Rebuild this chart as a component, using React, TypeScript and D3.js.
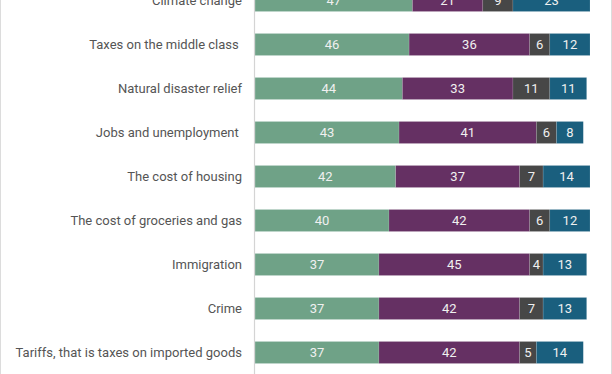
import React from "react";
import * as d3 from "d3";

const categories = [
  "Climate change",
  "Taxes on the middle class ",
  "Natural disaster relief",
  "Jobs and unemployment ",
  "The cost of housing",
  "The cost of groceries and gas",
  "Immigration",
  "Crime",
  "Tariffs, that is taxes on imported goods",
];

const seriesKeys = ["a", "b", "c", "d"];
const seriesA = [47, 46, 44, 43, 42, 40, 37, 37, 37];
const seriesB = [21, 36, 33, 41, 37, 42, 45, 42, 42];
const seriesC = [9, 6, 11, 6, 7, 6, 4, 7, 5];
const seriesD = [23, 12, 11, 8, 14, 12, 13, 13, 14];

const colors = ["#6fa287", "#653063", "#474747", "#1a5f7e"];

const App = () => {
  const width = 612;
  const height = 374;
  const left = 255;
  const right = 590;

  const rows = categories.map((c, i) => ({
    cat: c,
    a: seriesA[i],
    b: seriesB[i],
    c: seriesC[i],
    d: seriesD[i],
  }));

  const stack = d3.stack<any>().keys(seriesKeys)(rows);

  const x = d3.scaleLinear().domain([0, 100]).range([left, right]);
  const y = d3
    .scaleBand()
    .domain(categories)
    .range([-21.5, 374.5])
    .paddingInner(0.5)
    .paddingOuter(0.25);

  const font = "Roboto, 'Noto Sans', sans-serif";

  return (
    <div style={{ position: "fixed", top: 0, left: 0, width, height }}>
      <svg width={width} height={height} style={{ display: "block" }}>
        <rect x={0} y={0} width={width} height={height} fill="#fff" />
        <line x1={0.5} x2={0.5} y1={0} y2={height} stroke="#dcdcdc" />
        <line x1={611.5} x2={611.5} y1={0} y2={height} stroke="#dcdcdc" />
        {stack.map((layer, si) => (
          <g key={si}>
            {layer.map((d, i) => {
              const x0 = x(d[0]);
              const x1 = x(d[1]);
              const yy = y(categories[i])!;
              return (
                <g key={i}>
                  <rect
                    x={x0}
                    y={yy}
                    width={x1 - x0}
                    height={y.bandwidth()}
                    fill={colors[si]}
                    stroke="#fff"
                    strokeOpacity={0.2}
                    strokeWidth={0.6}
                  />
                  <text
                    x={(x0 + x1) / 2}
                    y={yy + y.bandwidth() / 2}
                    dy="0.35em"
                    textAnchor="middle"
                    fill="#f0f0f0"
                    fontSize={13}
                    fontFamily={font}
                  >
                    {d[1] - d[0]}
                  </text>
                </g>
              );
            })}
          </g>
        ))}
        {categories.map((c) => (
          <text
            key={c}
            x={242}
            y={y(c)! + y.bandwidth() / 2}
            dy="0.35em"
            textAnchor="end"
            fill="#555"
            fontSize={13}
            fontFamily={font}
            style={{ whiteSpace: "pre" }}
          >
            {c}
          </text>
        ))}
        <line x1={254.5} x2={254.5} y1={0} y2={height} stroke="#d4d4d4" strokeWidth={1.2} />
      </svg>
    </div>
  );
};

export default App;
